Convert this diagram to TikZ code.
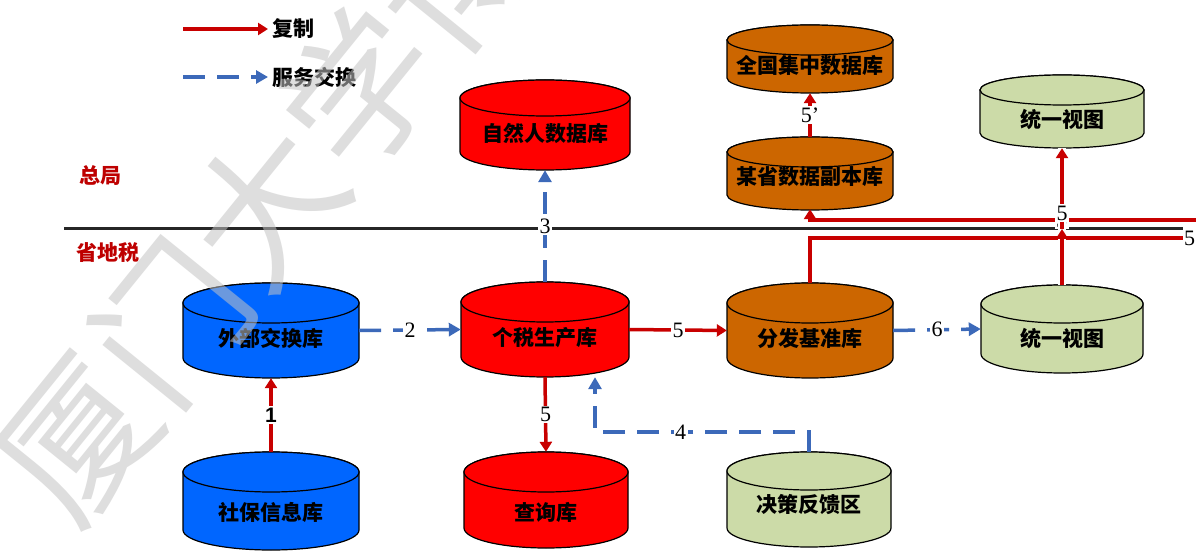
\documentclass[tikz,border=0pt]{standalone}
\usepackage{fontspec}
\setmainfont{Liberation Serif}
\newfontfamily\cjk{Noto Sans CJK SC}
\newfontfamily\numsans{Liberation Sans}
\usetikzlibrary{arrows.meta,calc}
\definecolor{dbblue}{RGB}{0,102,255}
\definecolor{dbred}{RGB}{255,0,0}
\definecolor{dborange}{RGB}{204,102,0}
\definecolor{dbgreen}{RGB}{204,219,168}
\definecolor{repred}{RGB}{200,0,0}
\definecolor{svcblue}{RGB}{60,105,185}
\definecolor{titlered}{RGB}{190,0,0}
\definecolor{wmgray}{RGB}{195,195,195}
\tikzset{
  dbtext/.style={font=\cjk\bfseries\fontsize{21}{21}\selectfont, inner sep=0pt},
  rep/.style={draw=repred, line width=3.5pt, -{Triangle[length=10pt,width=12pt]}},
  repline/.style={draw=repred, line width=3.5pt},
  svc/.style={draw=svcblue, line width=3.5pt, dash pattern=on 22pt off 12pt, -{Triangle[length=12pt,width=13pt]}},
  lbl/.style={fill=white, inner sep=1.5pt, font=\fontsize{22}{22}\selectfont},
  legtext/.style={font=\cjk\bfseries\fontsize{21}{21}\selectfont, inner sep=4pt},
  titletext/.style={font=\cjk\bfseries\fontsize{21}{21}\selectfont, text=titlered, inner sep=0pt},
  crossing/.style={preaction={draw=white, line width=8pt, -}}
}
\newcommand\dbcyl[9]{%
  \path[fill=#7, draw=black, line width=1.2pt] (#2-#5,#3+#6) -- (#2-#5,#4-#6)
    arc[start angle=180,end angle=360,x radius=#5pt,y radius=#6pt]
    -- (#2+#5,#3+#6)
    arc[start angle=0,end angle=180,x radius=#5pt,y radius=#6pt] -- cycle;
  \path[fill=#7, draw=black, line width=1.2pt] (#2,#3+#6) ellipse[x radius=#5pt,y radius=#6pt];
  \node[inner sep=0pt, minimum width={2*#5pt}, minimum height={(#4-#3)*1pt}] (#1) at (#2,{(#3+#4)/2}) {};
  \node[dbtext] (#1-t) at (#2,#9) {#8};
}
\begin{document}
\begin{tikzpicture}[x=1pt,y=-1pt]
\useasboundingbox (0,0) rectangle (1196,553);
\fill[white] (0,0) rectangle (1196,553);
% divider
\draw[line width=3pt, black!85] (64,229) -- (1183,229);
% titles
\node[titletext] (zj) at (100,175) {总局};
\node[titletext] (sds) at (108,253) {省地税};
% legend
\coordinate (lg1) at (183,29);
\node[legtext, anchor=west] (lgt1) at (268,29) {复制};
\draw[rep] (lg1) -- (lgt1.west);
\coordinate (lg2) at (183,77);
\node[legtext, anchor=west] (lgt2) at (268,77) {服务交换};
\draw[svc] (lg2) -- (lgt2.west);
% databases
\dbcyl{zr}{545}{80}{170}{85}{18}{dbred}{自然人数据库}{133}
\dbcyl{qg}{810}{25}{93}{83}{15}{dborange}{全国集中数据库}{65}
\dbcyl{ms}{810}{137}{210}{83}{15}{dborange}{某省数据副本库}{177}
\dbcyl{tva}{1062}{75}{148}{82}{15}{dbgreen}{统一视图}{120}
\dbcyl{wb}{271}{283}{378}{88}{20}{dbblue}{外部交换库}{338}
\dbcyl{gs}{545}{282}{377}{84}{20}{dbred}{个税生产库}{338}
\dbcyl{fd}{810}{283}{378}{83}{20}{dborange}{分发基准库}{338}
\dbcyl{tvb}{1062}{285}{373}{81}{19}{dbgreen}{统一视图}{338}
\dbcyl{sb}{271}{452}{550}{88}{20}{dbblue}{社保信息库}{512}
\dbcyl{qry}{546}{452}{548}{82}{20}{dbred}{查询库}{512}
\dbcyl{jc}{809}{452}{547}{82}{19}{dbgreen}{决策反馈区}{505}
% replication connectors
\draw[rep] (sb.north) -- node[lbl, font=\numsans\bfseries\fontsize{21}{21}\selectfont] {1} (wb.south);
\draw[rep] (gs.east) -- node[lbl] {5} (fd.west);
\draw[rep] (gs.south) -- node[lbl] {5} (qry.north);
\draw[rep] (ms.north) -- node[lbl] {5'} (qg.south);
\coordinate (afive) at (1183,238);
\draw[repline] (fd.north) |- (afive);
\node[lbl, fill=none, anchor=west, inner sep=1pt] (afivelab) at (afive) {5};
\coordinate (bfive) at (1196,220);
\draw[rep] (bfive) -| node[lbl, pos=0.174] {5} ([yshift=1pt]ms.south);
\coordinate (cjoin) at (1062,229);
\draw[rep, crossing] (tvb.north) -- (cjoin);
\draw[rep, crossing] (cjoin) -- (tva.south);
\node[lbl] (clab) at (1062,213) {5};
% service exchange connectors
\draw[svc] (wb.east) -- node[lbl] {2} (gs.west);
\draw[svc] (gs.north) -- node[lbl] {3} (zr.south);
\draw[svc] (fd.east) -- node[lbl] {6} (tvb.west);
\draw[svc] (jc.north) -- ++(0,-20) -| node[lbl, pos=0.3] {4} ([xshift=50pt]gs.south);
% watermark
\begin{scope}
\clip (0,0) rectangle (1196,553);
\node[rotate=51, text=wmgray, opacity=0.55, inner sep=0pt, font=\cjk\fontsize{150}{150}\selectfont] (wm) at (265,205) {厦门大学博};
\end{scope}
\end{tikzpicture}
\end{document}
